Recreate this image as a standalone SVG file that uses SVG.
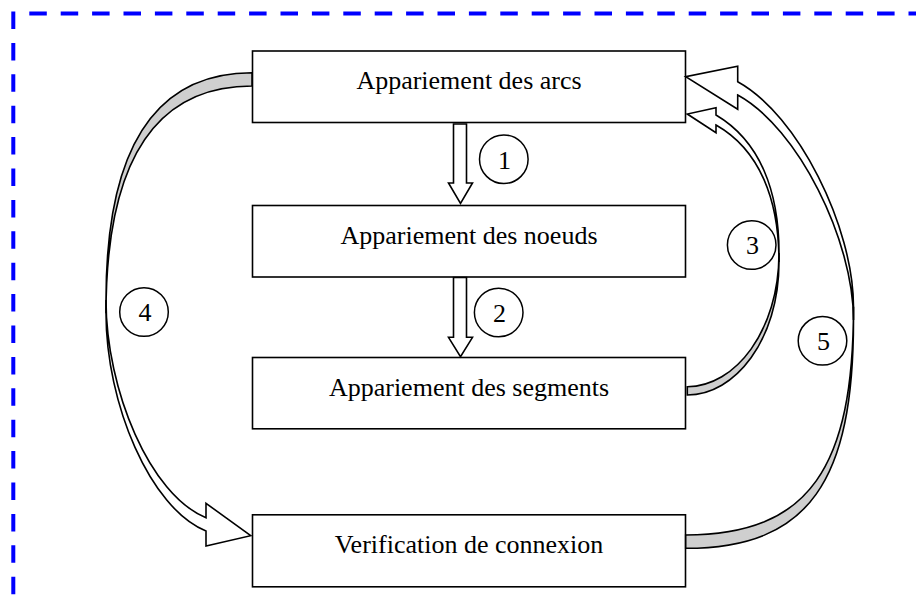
<svg xmlns="http://www.w3.org/2000/svg" width="916" height="608" viewBox="0 0 916 608">
  <style>
    .frame { fill:none; stroke:#0000ff; stroke-width:4; stroke-dasharray:17.5 13.9; }
    .box { fill:#fff; stroke:#000; stroke-width:1.6; }
    .txt { font-family:"Liberation Serif","Times New Roman",serif; font-size:26px; text-anchor:middle; fill:#000; }
    .back { fill:#cfcfcf; stroke:#000; stroke-width:1.6; stroke-linejoin:miter; }
    .front { fill:#fff; stroke:#000; stroke-width:1.6; stroke-linejoin:miter; }
    .circ { fill:#fff; stroke:#000; stroke-width:1.5; }
  </style>
  <rect width="916" height="608" fill="#fff"/>
  <g id="frame">
    <path class="frame" d="M13.3,11.5 V608"/>
    <path class="frame" d="M29.3,13.5 H916"/>
  </g>
  <g id="node-arcs">
    <rect class="box" x="252.5" y="51" width="433" height="71.5"/>
    <text class="txt" x="469" y="89.3">Appariement des arcs</text>
  </g>
  <g id="node-noeuds">
    <rect class="box" x="252.5" y="205.5" width="433" height="71.5"/>
    <text class="txt" x="469" y="244">Appariement des noeuds</text>
  </g>
  <g id="node-segments">
    <rect class="box" x="252.5" y="357.5" width="433" height="71.3"/>
    <text class="txt" x="469" y="395.8">Appariement des segments</text>
  </g>
  <g id="node-verification">
    <rect class="box" x="252.5" y="514.8" width="433" height="72"/>
    <text class="txt" x="469" y="553.1">Verification de connexion</text>
  </g>
  <g id="connectors">
    <!-- 1 -->
    <path class="front" d="M453.5,124 H466.5 V183 H472.5 L460.5,203.5 L448.5,183 H453.5 Z"/>
    <!-- 2 -->
    <path class="front" d="M453.5,277.5 H466.5 V337.3 H472.5 L460.5,356.7 L448.5,337.3 H453.5 Z"/>
    <!-- 4 -->
    <path class="back" d="M252,72.7 C160,72.7 106,140 106,300 L106,313.3 C106,153.3 160,86 252,86 Z"/>
    <path class="front" d="M106,300 C106,390 150,495 206,517.7 L206,503.3 L250.7,535.7 L206,546 L206,531 C150,508.3 106,403.3 106,313.3 Z"/>
    <!-- 3 -->
    <path class="back" d="M687.3,395 C735,395 779,340 779,262 L779,253 C779,331 735,386.7 687.3,386.7 Z"/>
    <path class="front" d="M779,262 C779,200 760,150 716,125 L716,132.7 L687.3,114 L716,107.7 L716,115 C760,141 779,191 779,253 Z"/>
    <!-- 5 -->
    <path class="back" d="M685.7,548.3 C810,548.3 853.5,480 853.5,320 L853.5,306.7 C853.5,466.7 810,535 685.7,535 Z"/>
    <path class="front" d="M853.5,320 C853.5,240 798,128 737.7,95 L737.7,109.3 L685.7,76.7 L737.7,66.3 L737.7,81.7 C798,114.7 853.5,226.7 853.5,306.7 Z"/>
  </g>
  <g id="labels">
    <g id="label-1"><circle class="circ" cx="503.8" cy="159.2" r="24.3"/><text class="txt" x="504.5" y="169">1</text></g>
    <g id="label-2"><circle class="circ" cx="498.7" cy="312.5" r="24.3"/><text class="txt" x="499.5" y="321.7">2</text></g>
    <g id="label-3"><circle class="circ" cx="751.7" cy="245" r="24.3"/><text class="txt" x="752.5" y="254">3</text></g>
    <g id="label-4"><circle class="circ" cx="144" cy="312" r="24.3"/><text class="txt" x="145" y="321">4</text></g>
    <g id="label-5"><circle class="circ" cx="822.5" cy="340.8" r="24.3"/><text class="txt" x="823.5" y="350">5</text></g>
  </g>
</svg>
